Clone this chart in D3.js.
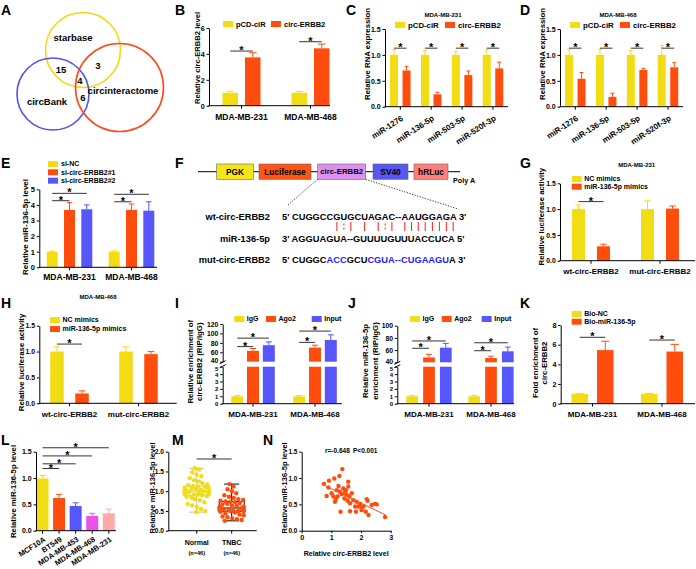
<!DOCTYPE html>
<html><head><meta charset="utf-8">
<script src="https://cdn.jsdelivr.net/npm/d3@7"></script>
<style>body{margin:0;background:#fff}svg text{font-family:'Liberation Sans',Arial,Helvetica,sans-serif;font-weight:bold;fill:#000}</style>
</head><body><script>
// ================= DATA =================
// A
const vennNames = ["starbase","circBank","circinteractome"];
const vennCounts = [15,3,4,6];
// B
const bCategories = ["MDA-MB-231","MDA-MB-468"];
const bSeries = ["pCD-ciR","circ-ERBB2"];
const bValues = [[1.0,3.73],[1.0,4.43]];
const bErrors = [[0.12,0.36],[0.1,0.33]];
// C & D
const cdCategories = ["miR-1276","miR-136-5p","miR-503-5p","miR-520f-3p"];
const cdSeries = ["pCD-ciR","circ-ERBB2"];
const cValues = [[1,0.70],[1,0.24],[1,0.61],[1,0.74]];
const cErrors = [[0.10,0.08],[0.08,0.04],[0.07,0.08],[0.10,0.12]];
const dValues = [[1,0.54],[1,0.19],[1,0.71],[1,0.76]];
const dErrors = [[0.11,0.12],[0.11,0.07],[0.08,0.03],[0.18,0.09]];
// E
const eCategories = ["MDA-MB-231","MDA-MB-468"];
const eSeries = ["si-NC","si-circ-ERBB2#1","si-circ-ERBB2#2"];
const eValues = [[1.0,3.68,3.72],[1.0,3.68,3.63]];
const eErrors = [[0.04,0.47,0.28],[0.05,0.38,0.57]];
// F
const fConstruct = ["PGK","Luciferase","circ-ERBB2","SV40","hRLuc"];
const fRowLabels = ["wt-circ-ERBB2","miR-136-5p","mut-circ-ERBB2"];
const wtSeq = "5' CUGGCCGUGCUAGAC--AAUGGAGA 3'";
const mirSeq = "3' AGGUAGUA--GUUUUGUUUACCUCA 5'";
const mutParts = ["5' CUGGC","ACC","GCU","CGUA--CUGAAGU","A 3'"];
const mutMutated = [false,true,false,true,false];
const pairIdx = [9,10,11,13,15,16,17,20,21,22,23,24,25,26,27];
const pairType = ["|",":","|","|","|",":","|","|","|","|","|","|","|","|","|"];
// G & H
const ghCategories = ["wt-circ-ERBB2","mut-circ-ERBB2"];
const ghSeries = ["NC mimics","miR-136-5p mimics"];
const gValues = [[1.0,0.28],[1.0,1.01]];
const gErrors = [[0.08,0.04],[0.16,0.05]];
const hValues = [[1.0,0.19],[1.0,0.95]];
const hErrors = [[0.09,0.05],[0.09,0.05]];
// I & J
const ijCategories = ["MDA-MB-231","MDA-MB-468"];
const ijSeries = ["IgG","Ago2","Input"];
const iValues = [[1.0,63,75],[1.0,70,86]];
const iErrors = [[0.1,5,7],[0.1,5,11]];
const jValues = [[1.0,48,64],[1.0,47,58]];
const jErrors = [[0.1,5,7],[0.1,3,7]];
// K
const kCategories = ["MDA-MB-231","MDA-MB-468"];
const kSeries = ["Bio-NC","Bio-miR-136-5p"];
const kValues = [[1.0,5.45],[1.0,5.3]];
const kErrors = [[0.05,0.9],[0.05,0.73]];
// L
const lCategories = ["MCF10A","BT549","MDA-MB-453","MDA-MB-468","MDA-MB-231"];
const lValues = [0.99,0.62,0.47,0.28,0.33];
const lErrors = [0.06,0.07,0.06,0.05,0.08];
// M
const mGroups = ["Normal","TNBC"];
const mNormal = [1.58,1.55,1.48,1.42,1.38,1.33,1.28,1.25,1.2,1.17,1.15,1.13,1.12,1.1,1.09,1.08,1.06,1.05,1.04,1.03,1.02,1.01,1.0,1.0,0.99,0.98,0.97,0.96,0.95,0.94,0.93,0.92,0.91,0.9,0.88,0.86,0.84,0.8,0.77,0.72,0.68,0.64,0.6,0.55,0.5,0.47];
const mTNBC = [1.18,1.12,1.05,1.0,0.95,0.9,0.86,0.83,0.8,0.78,0.76,0.74,0.73,0.72,0.7,0.68,0.66,0.64,0.62,0.61,0.6,0.59,0.58,0.57,0.56,0.55,0.54,0.53,0.52,0.52,0.51,0.5,0.5,0.5,0.49,0.48,0.46,0.44,0.41,0.39,0.36,0.34,0.31,0.29,0.27,0.25];
// N
const nX = [0.75,0.9,0.92,1.1,1.27,1.37,1.57,0.84,1.01,1.07,1.18,1.21,1.29,1.35,1.4,1.44,1.49,1.52,1.55,1.61,1.63,1.69,1.74,1.8,1.85,1.91,1.97,2.02,2.08,2.16,2.19,2.22,2.36,2.47,2.53,2.25,2.81,1.31,1.63,1.83,1.24,1.57,1.12,1.45,1.15,2.0];
const nY = [0.89,0.82,0.95,0.99,1.04,1.17,0.93,0.66,0.71,0.65,0.77,0.65,0.74,0.69,0.8,0.61,0.77,0.68,0.57,0.65,0.52,0.71,0.58,0.46,0.55,0.46,0.51,0.39,0.46,0.36,0.6,0.57,0.49,0.51,0.5,0.3,0.26,0.36,0.37,0.36,0.85,0.84,0.55,0.72,0.6,0.45];
const nStats = ["r=-0.648","P<0.001"];
const panelLetters = ["A","B","C","D","E","F","G","H","I","J","K","L","M","N"];

// ================= STYLE =================
const FONT = "'Liberation Sans', Arial, Helvetica, sans-serif";
const YEL="#F2DC13", ORG="#FF4D0D", BLU="#5656FA", MAG="#EE50EC", PNK="#FFA9A9";
const SIG="#333";

const svg = d3.select("body").append("svg").attr("width",696).attr("height",569);

function axisL(scale,ticks,fmt){
  return d3.axisLeft(scale).tickValues(ticks).tickFormat(fmt).tickSize(2.5).tickPadding(1.8).tickSizeOuter(0);
}
function styleAxis(sel, fs){
  sel.attr("font-family",FONT);
  sel.select(".domain").attr("stroke","#000").attr("stroke-width",1);
  sel.selectAll(".tick line").attr("stroke","#000").attr("stroke-width",1);
  sel.selectAll(".tick text").attr("font-size",fs).attr("font-weight","bold").attr("fill","#000");
}
function txt(g,s,x,y,fs,anchor){
  return g.append("text").attr("x",x).attr("y",y).attr("font-size",fs).attr("text-anchor",anchor||"start").text(s);
}
function yTitle(g,lines,xs,cy,fs){
  lines.forEach((l,i)=>{
    g.append("text").attr("transform",`translate(${xs[i]},${cy}) rotate(-90)`).attr("text-anchor","middle")
     .attr("dominant-baseline","central").attr("font-size",fs).text(l);
  });
}
function legend(g,items,colors,pos){
  items.forEach((s,i)=>{
    const x = pos.xs ? pos.xs[i] : pos.x;
    const y = pos.ys ? pos.ys[i] : pos.y;
    g.append("rect").attr("x",x).attr("y",y-3).attr("width",10).attr("height",6).attr("fill",colors[i]);
    g.append("text").attr("x",x+(pos.gap||13)).attr("y",y).attr("dy","0.35em").attr("font-size",pos.fs).text(s);
  });
}
function star(g,x,y){
  g.append("line").attr("x1",x[0]).attr("x2",x[1]).attr("y1",y).attr("y2",y).attr("stroke",SIG).attr("stroke-width",1);
  g.append("text").attr("x",(x[0]+x[1])/2).attr("y",y+3).attr("text-anchor","middle").attr("font-size",11).text("*");
}

function barPanel(o){
  const g = svg.append("g");
  const y = d3.scaleLinear().domain([0,o.yMax]).range([o.bottom,o.top]);
  const x = d3.scalePoint().domain(o.categories).range(o.centers);
  const ns = o.series.length;
  const off = j => (j-(ns-1)/2)*o.step;
  const cells = [];
  o.categories.forEach((c,i)=>o.series.forEach((s,j)=>cells.push({c,i,j,v:o.values[i][j],e:o.errors[i][j],color:o.colorByCat?o.colors[i]:o.colors[j]})));
  const bx = d=>x(d.c)+off(d.j);
  g.selectAll("rect.bar").data(cells).join("rect").attr("class","bar")
    .attr("x",d=>bx(d)-o.barW/2).attr("width",o.barW).attr("y",d=>y(d.v)).attr("height",d=>y(0)-y(d.v)).attr("fill",d=>d.color);
  const cap = o.barW*0.5;
  g.selectAll("path.err").data(cells).join("path").attr("class","err")
    .attr("d",d=>`M${bx(d)},${y(d.v)}V${y(d.v+d.e)}M${bx(d)-cap/2},${y(d.v+d.e)}H${bx(d)+cap/2}`)
    .attr("stroke",d=>d.color).attr("stroke-width",1).attr("fill","none");
  const ya = g.append("g").attr("transform",`translate(${o.left},0)`).call(axisL(y,o.yTicks,o.fmt));
  styleAxis(ya,o.tickFs||7);
  g.append("line").attr("x1",o.left-0.5).attr("x2",o.right).attr("y1",o.bottom).attr("y2",o.bottom).attr("stroke","#000");
  o.categories.forEach(c=>{
    g.append("line").attr("x1",x(c)).attr("x2",x(c)).attr("y1",o.bottom).attr("y2",o.bottom+3).attr("stroke","#000");
    if(o.rotate){
      g.append("text").attr("transform",`translate(${x(c)+3.5},${o.bottom+o.rotOff}) rotate(${o.rotate})`)
        .attr("text-anchor","end").attr("font-size",o.catFs).text(c);
    } else txt(g,c,x(c),o.catY,o.catFs,"middle");
  });
  (o.sig||[]).forEach(s=>{
    const xa = s.k!==undefined ? [x(o.categories[0]), x(o.categories[s.k])] : [x(o.categories[s.c])+off(s.a), x(o.categories[s.c])+off(s.b)];
    star(g,xa,y(s.y));
  });
  if(o.title) txt(g,o.title.text,o.title.x,o.title.y,6,"middle");
  if(o.ytitle) yTitle(g,o.ytitle.lines,o.ytitle.xs,o.ytitle.y,o.ytitle.fs);
  if(o.legend) legend(g,o.series,o.colors,o.legend);
  return g;
}

function brokenPanel(o){
  const g = svg.append("g");
  const yLo = d3.scaleLinear().domain([0,5]).range([o.bottom,o.loTop]);
  const yHi = d3.scaleLinear().domain([40,o.hiMax]).range([o.hiBottom,o.top]);
  const x = d3.scalePoint().domain(o.categories).range(o.centers);
  const ns = o.series.length;
  const off = j => (j-(ns-1)/2)*o.step;
  const cells=[];
  o.categories.forEach((c,i)=>o.series.forEach((s,j)=>cells.push({c,i,j,v:o.values[i][j],e:o.errors[i][j],color:o.colors[j]})));
  const bx = d=>x(d.c)+off(d.j);
  g.selectAll("rect.lo").data(cells).join("rect").attr("x",d=>bx(d)-o.barW/2).attr("width",o.barW)
    .attr("y",d=>yLo(Math.min(d.v,5))).attr("height",d=>yLo(0)-yLo(Math.min(d.v,5))).attr("fill",d=>d.color);
  g.selectAll("rect.hi").data(cells.filter(d=>d.v>5)).join("rect").attr("x",d=>bx(d)-o.barW/2).attr("width",o.barW)
    .attr("y",d=>yHi(d.v)).attr("height",d=>yHi(40)-yHi(d.v)).attr("fill",d=>d.color);
  const cap=o.barW*0.5;
  g.selectAll("path.err").data(cells).join("path").attr("d",d=>{const s=d.v>5?yHi:yLo;return `M${bx(d)},${s(d.v)}V${s(d.v+d.e)}M${bx(d)-cap/2},${s(d.v+d.e)}H${bx(d)+cap/2}`;})
    .attr("stroke",d=>d.color).attr("fill","none");
  const a1 = g.append("g").attr("transform",`translate(${o.left},0)`).call(axisL(yLo,[0,1,2,3,4,5],d3.format("d")));
  styleAxis(a1,6);
  a1.selectAll(".tick text").filter(d=>d===5).attr("dy","0.55em");
  const a2 = g.append("g").attr("transform",`translate(${o.left},0)`).call(axisL(yHi,o.hiTicks,d3.format("d")));
  styleAxis(a2,6.8);
  a2.selectAll(".tick text").filter(d=>d===40).attr("dy","0.15em");
  // break marks
  [o.loTop-0.5,o.hiBottom+0.5].forEach(yy=>g.append("line").attr("x1",o.left-3).attr("x2",o.left+3).attr("y1",yy+1.5).attr("y2",yy-1.5).attr("stroke","#000"));
  g.append("line").attr("x1",o.left-0.5).attr("x2",o.right).attr("y1",o.bottom).attr("y2",o.bottom).attr("stroke","#000");
  o.categories.forEach(c=>{
    g.append("line").attr("x1",x(c)).attr("x2",x(c)).attr("y1",o.bottom).attr("y2",o.bottom+3).attr("stroke","#000");
    txt(g,c,x(c),o.catY,o.catFs,"middle");
  });
  o.sig.forEach(s=>star(g,[x(o.categories[s.c])+off(s.a),x(o.categories[s.c])+off(s.b)],yHi(s.y)));
  yTitle(g,o.ytitle.lines,o.ytitle.xs,o.ytitle.y,o.ytitle.fs);
  legend(g,o.series,o.colors,o.legend);
}

// ================= PANEL LETTERS =================
const letterPos = [[1,15],[175,15],[346,15],[520,15],[1,168],[175,168],[520,168],[1,308],[175,308],[348,308],[520,308],[1,445],[172,445],[263,445]];
panelLetters.forEach((l,i)=>txt(svg,l,letterPos[i][0],letterPos[i][1],14,"start"));

// ================= A: Venn =================
{
  const g = svg.append("g");
  const circ = [{cx:83,cy:50,r:37.5,c:"#F3D80E"},{cx:53,cy:94,r:36,c:"#5050F0"},{cx:119.5,cy:87.5,r:44,c:"#FF4A1A"}];
  g.selectAll("circle").data(circ).join("circle").attr("cx",d=>d.cx).attr("cy",d=>d.cy).attr("r",d=>d.r)
    .attr("fill","none").attr("stroke",d=>d.c).attr("stroke-width",1.6);
  const namePos = [[73,38],[47,102],[123,91]];
  vennNames.forEach((n,i)=>txt(g,n,namePos[i][0],namePos[i][1],9.5,"middle").attr("dy","0.35em"));
  const cntPos = [[61,70],[98,66],[80,81],[83,98]];
  vennCounts.forEach((n,i)=>txt(g,n,cntPos[i][0],cntPos[i][1],9.5,"middle").attr("dy","0.35em"));
}

// ================= B =================
barPanel({categories:bCategories,series:bSeries,values:bValues,errors:bErrors,colors:[YEL,ORG],
  yMax:6,yTicks:[0,2,4,6],fmt:d3.format("d"),left:209,right:330,top:28,bottom:105.7,centers:[241.5,310.5],
  step:22.5,barW:15.5,catY:120,catFs:8.5,tickFs:7.2,
  sig:[{c:0,a:0,b:1,y:4.22},{c:1,a:0,b:1,y:4.94}],
  ytitle:{lines:["Relative circ-ERBB2 level"],xs:[197],y:58,fs:7.6},
  legend:{xs:[223,271],y:24,fs:7.5}});

// ================= C & D =================
[[cValues,cErrors,0,"MDA-MB-231"],[dValues,dErrors,175,"MDA-MB-468"]].forEach(([vals,errs,dx,ttl])=>{
  barPanel({categories:cdCategories,series:cdSeries,values:vals,errors:errs,colors:[YEL,ORG],
    yMax:1.5,yTicks:[0,0.5,1,1.5],fmt:d3.format(".1f"),left:385+dx,right:508+dx,top:29,bottom:106.7,
    centers:[400.3+dx,493+dx],step:12.5,barW:8,rotate:-33,rotOff:13,catFs:8,tickFs:7,
    sig:[0,1,2,3].map(c=>({c,a:0,b:1,y:1.13})),
    title:{text:ttl,x:443+dx,y:17},
    ytitle:{lines:["Relative RNA expression"],xs:[367+dx],y:54,fs:7.8},
    legend:{xs:[395+dx,445+dx],y:25,fs:7.8}});
});

// ================= E =================
barPanel({categories:eCategories,series:eSeries,values:eValues,errors:eErrors,colors:[YEL,ORG,BLU],
  yMax:5,yTicks:[0,1,2,3,4,5],fmt:d3.format("d"),left:39.3,right:157,top:189.3,bottom:267.3,centers:[69.5,131.5],
  step:17.3,barW:11,catY:280,catFs:8.5,tickFs:7.5,
  sig:[{c:0,a:0,b:2,y:4.74},{c:0,a:0,b:1,y:4.27},{c:1,a:0,b:2,y:4.68},{c:1,a:0,b:1,y:4.2}],
  ytitle:{lines:["Relative miR-136-5p level"],xs:[25],y:227,fs:8},
  legend:{x:48,ys:[164,172.3,180.7],fs:7}});

// ================= F =================
{
  const g = svg.append("g");
  const boxes = [{x:216.7,w:36.6,c:"#F5E51B"},{x:259,w:52,c:"#FF5514"},{x:317.7,w:48,c:"#DC91F0"},{x:373,w:35,c:"#5858F0"},{x:414,w:34,c:"#FF7F7F"}];
  g.append("line").attr("x1",198).attr("x2",460).attr("y1",171.7).attr("y2",171.7).attr("stroke","#000").attr("stroke-width",1);
  fConstruct.forEach((n,i)=>{
    const b=boxes[i];
    g.append("rect").attr("x",b.x).attr("y",164).attr("width",b.w).attr("height",15.3).attr("fill",b.c).attr("stroke","#666").attr("stroke-width",0.6);
    txt(g,n,b.x+b.w/2,171.7,n==="circ-ERBB2"?7.8:8.3,"middle").attr("dy","0.35em");
  });
  txt(g,"Poly A",453,180.5,7.2,"start").attr("dy","0.35em");
  g.append("path").attr("d","M317.7,179.3L288,205M365.7,179.3L458,209").attr("stroke","#000").attr("stroke-width",0.8).attr("stroke-dasharray","1.2,1.5").attr("fill","none");
  const rowY=[220,241.6,263.3];
  fRowLabels.forEach((l,i)=>txt(g,l,270,rowY[i],9.3,"end"));
  const wt = txt(g,wtSeq,282,rowY[0],9.3,"start").attr("xml:space","preserve");
  txt(g,mirSeq,282,rowY[1],9.3,"start").attr("xml:space","preserve");
  const mt = g.append("text").attr("x",282).attr("y",rowY[2]).attr("font-size",9.3).attr("xml:space","preserve");
  mutParts.forEach((p,i)=>mt.append("tspan").style("fill",mutMutated[i]?"#2424FF":"#000").text(p));
  const node = wt.node();
  pairIdx.forEach((ci,k)=>{
    const ext = node.getExtentOfChar(ci);
    const px = ext.x + ext.width/2;
    if(pairType[k]==="|"){
      g.append("line").attr("x1",px).attr("x2",px).attr("y1",222).attr("y2",231).attr("stroke","#FF3030").attr("stroke-width",1.1);
    } else {
      g.append("path").attr("d",`M${px},223.5V225.5M${px},227.5V229.5`).attr("stroke","#FF3030").attr("stroke-width",1.1);
    }
  });
}

// ================= G & H =================
barPanel({categories:ghCategories,series:ghSeries,values:gValues,errors:gErrors,colors:[YEL,ORG],
  yMax:1.5,yTicks:[0,0.5,1,1.5],fmt:d3.format(".1f"),left:560,right:695,top:183.3,bottom:260.7,centers:[591,660],
  step:25,barW:13,catY:273.5,catFs:8,tickFs:6.8,
  sig:[{c:0,a:0,b:1,y:1.145}],
  title:{text:"MDA-MB-231",x:636.7,y:167},
  ytitle:{lines:["Relative luciferase activity"],xs:[541.5],y:216.7,fs:7.8},
  legend:{x:571.7,ys:[179,186.7],fs:7,gap:12.5}});
barPanel({categories:ghCategories,series:ghSeries,values:hValues,errors:hErrors,colors:[YEL,ORG],
  yMax:1.5,yTicks:[0,0.5,1,1.5],fmt:d3.format(".1f"),left:39.3,right:176.7,top:325.7,bottom:403.3,centers:[69.5,138.5],
  step:25,barW:13.5,catY:416.5,catFs:8,tickFs:6.8,
  sig:[{c:0,a:0,b:1,y:1.145}],
  title:{text:"MDA-MB-468",x:98,y:299},
  ytitle:{lines:["Relative luciferase activity"],xs:[21],y:362.5,fs:7.8},
  legend:{x:50,ys:[320,329],fs:7,gap:12.5}});

// ================= I & J =================
brokenPanel({categories:ijCategories,series:ijSeries,values:iValues,errors:iErrors,colors:[YEL,ORG,BLU],
  left:222.7,right:342,bottom:403.7,loTop:366.7,hiBottom:361.7,top:324,hiMax:120,hiTicks:[40,60,80,100,120],
  centers:[253,315],step:15.8,barW:12,catY:416.5,catFs:8,
  sig:[{c:0,a:0,b:2,y:90},{c:0,a:0,b:1,y:72},{c:1,a:0,b:2,y:105},{c:1,a:0,b:1,y:81}],
  ytitle:{lines:["Relative enrichment of","circ-ERBB2 (RIP/IgG)"],xs:[190,199],y:361.7,fs:7.8},
  legend:{xs:[234.3,266,311.7],y:319,fs:7,gap:12.5}});
brokenPanel({categories:ijCategories,series:ijSeries,values:jValues,errors:jErrors,colors:[YEL,ORG,BLU],
  left:397.3,right:514,bottom:403.7,loTop:366.7,hiBottom:362.3,top:325.7,hiMax:100,hiTicks:[40,60,80,100],
  centers:[429,491],step:16.8,barW:11.7,catY:416.5,catFs:8,
  sig:[{c:0,a:0,b:2,y:75},{c:0,a:0,b:1,y:63},{c:1,a:0,b:2,y:72},{c:1,a:0,b:1,y:59}],
  ytitle:{lines:["Relative miR-136-5p","enrichment (RIP/IgG)"],xs:[365.7,375],y:361,fs:7.8},
  legend:{xs:[410,441.7,481.7],y:319,fs:7,gap:12.5}});

// ================= K =================
barPanel({categories:kCategories,series:kSeries,values:kValues,errors:kErrors,colors:[YEL,ORG],
  yMax:8,yTicks:[0,2,4,6,8],fmt:d3.format("d"),left:560.7,right:695,top:325,bottom:403.7,centers:[592.5,662],
  step:25.5,barW:16.5,catY:416.5,catFs:8,tickFs:7.2,
  sig:[{c:0,a:0,b:1,y:6.75},{c:1,a:0,b:1,y:6.47}],
  ytitle:{lines:["Fold enrichment of","circ-ERBB2"],xs:[535,544],y:363,fs:7.8},
  legend:{x:571.7,ys:[314,321.7],fs:7,gap:12.5}});

// ================= L =================
barPanel({categories:lCategories,series:["v"],values:lValues.map(v=>[v]),errors:lErrors.map(e=>[e]),
  colors:[YEL,ORG,BLU,MAG,PNK],colorByCat:true,
  yMax:1.5,yTicks:[0,0.5,1,1.5],fmt:d3.format(".1f"),left:36,right:116,top:451.7,bottom:530.7,centers:[42.5,108.8],
  step:0,barW:12,rotate:-33,rotOff:10,catFs:7.5,tickFs:7,
  sig:[{k:1,y:1.18},{k:2,y:1.27},{k:3,y:1.42},{k:4,y:1.575}],
  ytitle:{lines:["Relative miR-136-5p level"],xs:[13],y:491.5,fs:7.75}});

// ================= M =================
{
  const g = svg.append("g");
  const y = d3.scaleLinear().domain([0,2]).range([530.7,451.7]);
  const x = d3.scalePoint().domain(mGroups).range([196.7,231.7]);
  const ya = g.append("g").attr("transform","translate(168.3,0)").call(axisL(y,[0,0.5,1,1.5,2],d3.format(".1f")));
  styleAxis(ya,6.6);
  g.append("line").attr("x1",167.8).attr("x2",256.7).attr("y1",530.7).attr("y2",530.7).attr("stroke","#000");
  const sets = [{n:mGroups[0],v:mNormal,fill:YEL,box:"#BDBDBD"},{n:mGroups[1],v:mTNBC,fill:ORG,box:"#000"}];
  sets.forEach(s=>{
    const cx = x(s.n);
    g.append("line").attr("x1",cx).attr("x2",cx).attr("y1",530.7).attr("y2",533.7).attr("stroke","#000");
    const sorted = s.v.slice().sort(d3.ascending);
    const q1=d3.quantile(sorted,0.25), md=d3.quantile(sorted,0.5), q3=d3.quantile(sorted,0.75);
    const mn=d3.min(sorted), mx=d3.max(sorted);
    const nodes = s.v.map((v,i)=>({v,x:cx+((i%5)-2)*2,y:y(v)}));
    const sim = d3.forceSimulation(nodes).force("x",d3.forceX(cx).strength(0.04)).force("y",d3.forceY(d=>y(d.v)).strength(1))
      .force("c",d3.forceCollide(2.4)).stop();
    for(let i=0;i<250;i++) sim.tick();
    const bw=25, cw=15;
    const bg = g.append("g").attr("stroke",s.box).attr("stroke-width",1).attr("fill","none");
    bg.append("rect").attr("x",cx-bw/2).attr("y",y(q3)).attr("width",bw).attr("height",y(q1)-y(q3));
    bg.append("path").attr("d",`M${cx-bw/2},${y(md)}H${cx+bw/2}M${cx},${y(q3)}V${y(mx)}M${cx-cw/2},${y(mx)}H${cx+cw/2}M${cx},${y(q1)}V${y(mn)}M${cx-cw/2},${y(mn)}H${cx+cw/2}`);
    g.selectAll(null).data(nodes).join("circle").attr("cx",d=>Math.max(cx-12,Math.min(cx+12,d.x))).attr("cy",d=>y(d.v)).attr("r",2.2).attr("fill",s.fill);
    txt(g,s.n,cx,544.5,7,"middle");
    txt(g,"(n="+s.v.length+")",cx,555,5.6,"middle");
  });
  star(g,[x(mGroups[0]),x(mGroups[1])],y(1.815));
  yTitle(g,["Relative miR-136-5p level"],[152.5],488,7.6);
}

// ================= N =================
{
  const g = svg.append("g");
  const x = d3.scaleLinear().domain([0,3]).range([301.7,390.7]);
  const y = d3.scaleLinear().domain([0,1.5]).range([530.7,451.7]);
  const ya = g.append("g").attr("transform","translate(301.7,0)").call(axisL(y,[0,0.5,1,1.5],d3.format(".1f")));
  styleAxis(ya,6.4);
  const xa = g.append("g").attr("transform","translate(0,530.7)").call(d3.axisBottom(x).tickValues([0,1,2,3]).tickFormat(d3.format("d")).tickSize(2.5).tickPadding(2).tickSizeOuter(0));
  styleAxis(xa,7.2);
  const pts = nX.map((v,i)=>({x:v,y:nY[i]}));
  const mx=d3.mean(nX), my=d3.mean(nY);
  const slope = d3.sum(pts,p=>(p.x-mx)*(p.y-my))/d3.sum(pts,p=>(p.x-mx)**2);
  const icpt = my-slope*mx;
  const x0=d3.min(nX), x1=d3.max(nX);
  g.append("line").attr("x1",x(x0)).attr("x2",x(x1)).attr("y1",y(icpt+slope*x0)).attr("y2",y(icpt+slope*x1)).attr("stroke",ORG).attr("stroke-width",1);
  g.selectAll("circle").data(pts).join("circle").attr("cx",d=>x(d.x)).attr("cy",d=>y(d.y)).attr("r",2.2).attr("fill",ORG);
  txt(g,nStats[0],325,452.5,6.5,"start");
  txt(g,nStats[1],353,452.5,6.5,"start");
  txt(g,"Relative circ-ERBB2 level",346.2,556,7,"middle");
  yTitle(g,["Relative miR-136-5p level"],[284.5],488,7.6);
}
</script></body></html>
